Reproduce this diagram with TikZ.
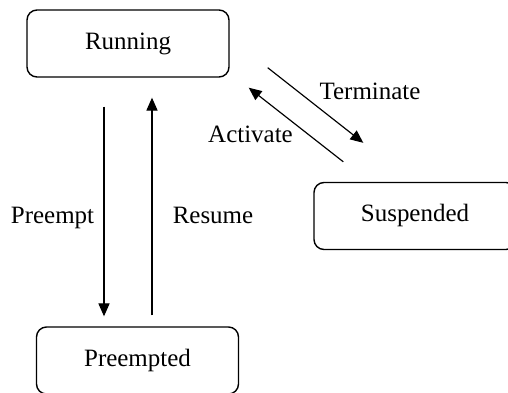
\documentclass[tikz,border=0pt]{standalone}
\usepackage{fontspec}
\setmainfont{Liberation Serif}
\usetikzlibrary{arrows.meta}
\tikzstyle{process}=[draw, rounded corners=0.3cm, line width=1.2pt,
  minimum width=6.06cm, minimum height=2.01cm, text height=0.95em, text depth=0pt]
\tikzstyle{transition}=[line width=1pt, -{Triangle[length=11pt, width=9.5pt]}]
\tikzstyle{tag}=[anchor=base, inner sep=0pt]

\begin{document}
\begin{tikzpicture}[x=0.03cm, y=-0.03cm, font=\fontsize{21.3}{25}\selectfont]
  \clip (0,0) rectangle (508,392);
  \node[process] (running) at (128,43.5) {Running};
  \node[process] (suspended) at (415,216) {Suspended};
  \node[process] (preempted) at (137.5,360.5) {Preempted};
  % running <-> preempted
  \draw[transition] ([shift={(-24,29)}]running.south) -- ([shift={(-33.5,-10)}]preempted.north);
  \draw[transition] ([shift={(14.5,-11)}]preempted.north) -- ([shift={(24,20)}]running.south);
  % running <-> suspended
  \draw[transition] ([shift={(38,-10)}]running.south east) -- ([shift={(50,-39)}]suspended.north west);
  \draw[transition] ([shift={(30,-20)}]suspended.north west) -- ([shift={(19,10)}]running.south east);
  \node[tag] (preempt) at (52.5,223) {Preempt};
  \node[tag] (resume) at (213,223) {Resume};
  \node[tag] (terminate) at (370,99) {Terminate};
  \node[tag] (activate) at (250.5,142) {Activate};
\end{tikzpicture}
\end{document}
